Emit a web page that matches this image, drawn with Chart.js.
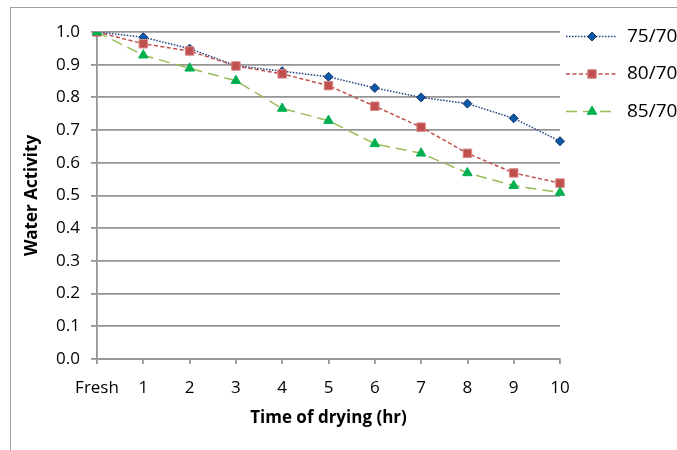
<!DOCTYPE html>
<html>
<head>
<meta charset="utf-8">
<script src="https://cdn.jsdelivr.net/npm/chart.js"></script>
<style>
  html, body { margin: 0; padding: 0; background: #ffffff; }
  #wrap { width: 677px; height: 450px; position: relative; }
</style>
</head>
<body>
<div id="wrap"><canvas id="c" width="677" height="450"></canvas></div>
<script>
const categories = ['Fresh', '1', '2', '3', '4', '5', '6', '7', '8', '9', '10'];
const seriesNames = ['75/70', '80/70', '85/70'];
const s75 = [1.0, 0.984, 0.949, 0.897, 0.880, 0.863, 0.829, 0.800, 0.781, 0.736, 0.666];
const s80 = [1.0, 0.964, 0.942, 0.896, 0.872, 0.836, 0.773, 0.709, 0.629, 0.569, 0.538];
const s85 = [1.0, 0.929, 0.889, 0.851, 0.766, 0.729, 0.658, 0.629, 0.569, 0.530, 0.509];
const yTicks = [0, 0.1, 0.2, 0.3, 0.4, 0.5, 0.6, 0.7, 0.8, 0.9, 1.0];
const xTitle = 'Time of drying (hr)';
const yTitle = 'Water Activity';

const FONT = "'Open Sans', 'Liberation Sans', sans-serif";
const GRID = '#959595';

const framePlugin = {
  id: 'frame',
  beforeDraw(chart) {
    const ctx = chart.ctx;
    ctx.save();
    ctx.fillStyle = '#ffffff';
    ctx.fillRect(0, 0, chart.width, chart.height);
    ctx.strokeStyle = '#a0a0a0';
    ctx.lineWidth = 1;
    ctx.strokeRect(10.5, 7.5, 800, 600);
    ctx.restore();
  }
};

const legendPlugin = {
  id: 'customLegend',
  afterDraw(chart) {
    const ctx = chart.ctx;
    const rows = [36.5, 74, 111.5];
    chart.data.datasets.forEach((ds, i) => {
      const y = rows[i];
      ctx.save();
      ctx.strokeStyle = ds.borderColor;
      ctx.lineWidth = ds.borderWidth;
      ctx.setLineDash(ds.borderDash || []);
      ctx.beginPath();
      ctx.moveTo(566, y);
      ctx.lineTo(617, y);
      ctx.stroke();
      ctx.setLineDash([]);
      ctx.fillStyle = ds.pointBackgroundColor;
      ctx.strokeStyle = ds.pointBorderColor;
      ctx.lineWidth = ds.pointBorderWidth;
      Chart.helpers.drawPoint(ctx, {
        pointStyle: ds.pointStyle,
        radius: ds.pointRadius,
        rotation: 0,
        borderWidth: ds.pointBorderWidth
      }, 592, y);
      ctx.fillStyle = '#000000';
      ctx.font = "19px " + FONT;
      ctx.textAlign = 'left';
      ctx.textBaseline = 'middle';
      ctx.fillText(seriesNames[i], 627, y);
      ctx.restore();
    });
  }
};

new Chart(document.getElementById('c'), {
  type: 'line',
  data: {
    labels: categories,
    datasets: [
      {
        label: seriesNames[0],
        data: s75,
        order: 3,
        borderColor: '#1f3f80',
        borderWidth: 1.5,
        borderDash: [1.5, 1.5],
        pointStyle: 'rectRot',
        pointRadius: 4.5,
        pointBackgroundColor: '#0a58a8',
        pointBorderColor: '#1b3567',
        pointBorderWidth: 1,
        tension: 0,
        fill: false
      },
      {
        label: seriesNames[1],
        data: s80,
        order: 2,
        borderColor: '#c0504d',
        borderWidth: 1.5,
        borderDash: [4, 2.5],
        pointStyle: 'rect',
        pointRadius: 6,
        pointBackgroundColor: '#c0504d',
        pointBorderColor: '#d88a88',
        pointBorderWidth: 1,
        tension: 0,
        fill: false
      },
      {
        label: seriesNames[2],
        data: s85,
        order: 1,
        borderColor: '#9bbb59',
        borderWidth: 1.5,
        borderDash: [11, 6],
        pointStyle: 'triangle',
        pointRadius: 5.5,
        pointBackgroundColor: '#00b050',
        pointBorderColor: '#00b050',
        pointBorderWidth: 1,
        tension: 0,
        fill: false
      }
    ]
  },
  options: {
    responsive: false,
    animation: false,
    devicePixelRatio: 1,
    layout: { padding: { left: 10, right: 117, top: 32, bottom: 11 } },
    plugins: {
      legend: { display: false },
      tooltip: { enabled: false },
      title: { display: false }
    },
    scales: {
      x: {
        type: 'category',
        offset: false,
        afterFit(scale) { scale.height = 80; },
        grid: {
          display: true,
          drawOnChartArea: false,
          drawTicks: true,
          tickLength: 5,
          color: GRID,
          lineWidth: 1.8
        },
        border: { display: true, color: GRID, width: 1.8 },
        ticks: {
          color: '#000000',
          font: { family: FONT, size: 17 },
          padding: 14,
          maxRotation: 0,
          autoSkip: false
        },
        title: {
          display: true,
          text: xTitle,
          color: '#000000',
          font: { family: FONT, size: 17, weight: 'bold' },
          padding: { top: 0, bottom: 11 }
        }
      },
      y: {
        min: 0,
        max: 1,
        afterFit(scale) { scale.width = 87; },
        afterBuildTicks(scale) { scale.ticks = yTicks.map(v => ({ value: v })); },
        grid: {
          display: true,
          drawOnChartArea: true,
          drawTicks: true,
          tickLength: 6,
          color: GRID,
          lineWidth: 1.8
        },
        border: { display: true, color: GRID, width: 1.8 },
        ticks: {
          color: '#000000',
          font: { family: FONT, size: 17 },
          padding: 11,
          callback: (v) => Number(v).toFixed(1)
        },
        title: {
          display: true,
          text: yTitle,
          color: '#000000',
          font: { family: FONT, size: 17, weight: 'bold' },
          padding: { top: 12, bottom: 0 }
        }
      }
    }
  },
  plugins: [framePlugin, legendPlugin]
});
</script>
</body>
</html>
